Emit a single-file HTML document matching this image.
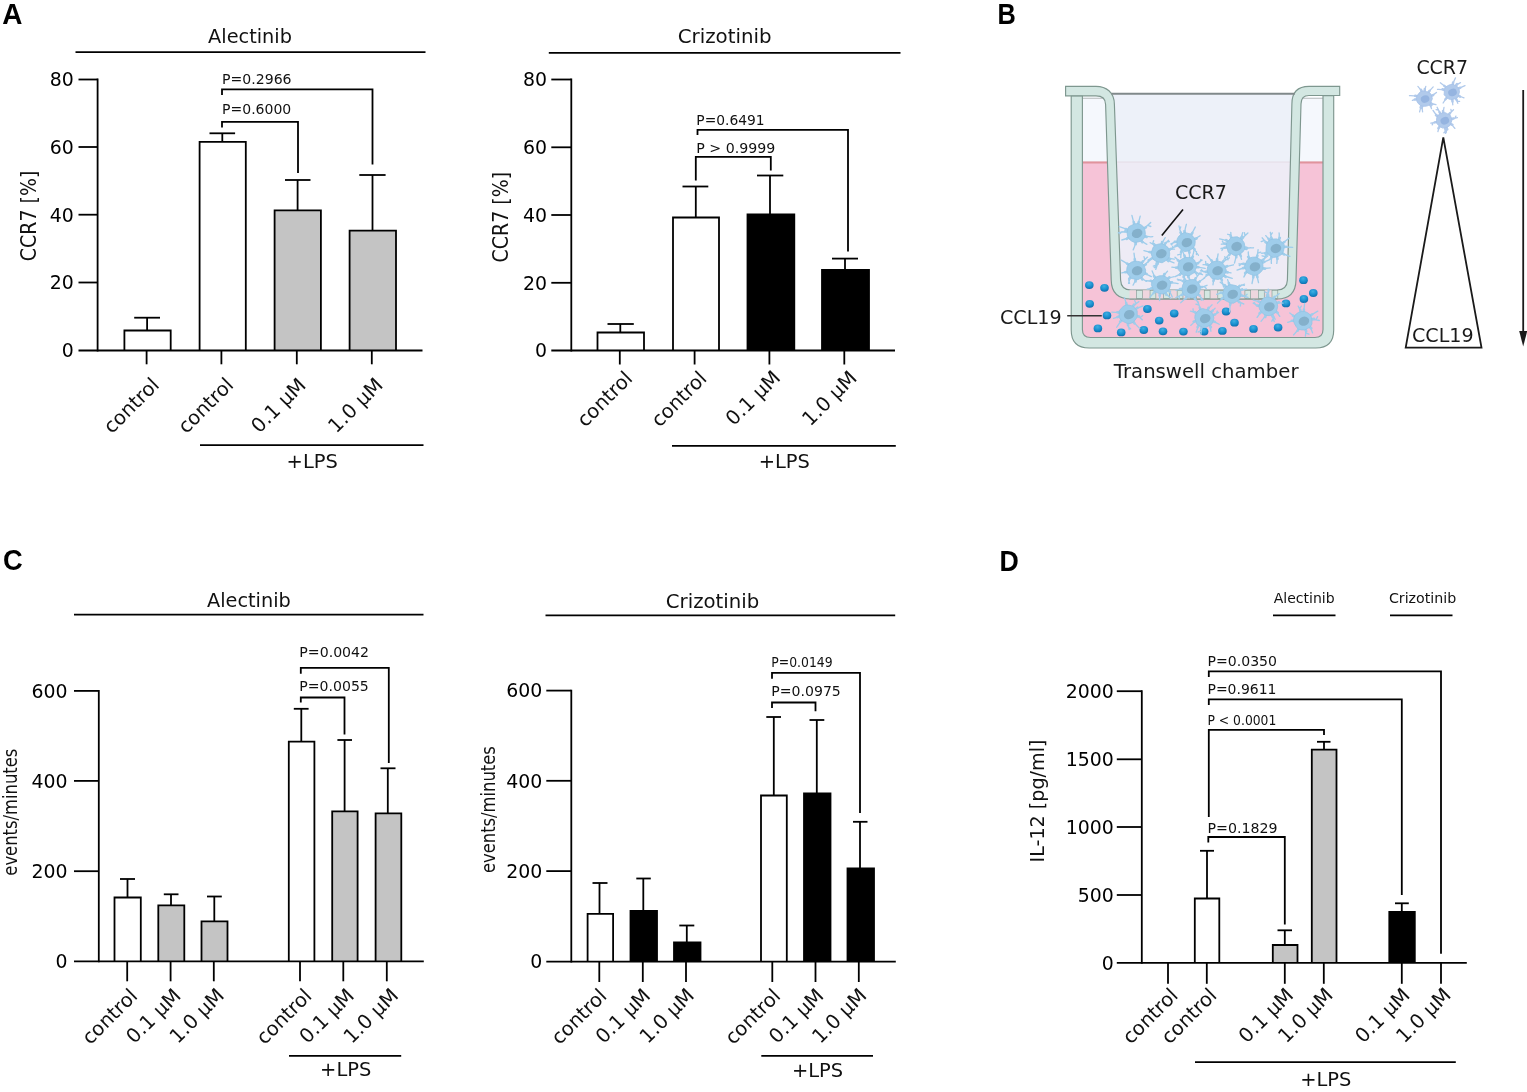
<!DOCTYPE html>
<html><head><meta charset="utf-8"><title>Figure</title>
<style>
html,body{margin:0;padding:0;background:#fff;}
body{width:1527px;height:1092px;overflow:hidden;}
svg{display:block;}
text{font-family:"DejaVu Sans","Liberation Sans",sans-serif;}
</style></head><body>
<svg width="1527" height="1092" viewBox="0 0 1527 1092">
<rect width="1527" height="1092" fill="#fff"/>
<text id="L_A" x="2.20" y="24.00" font-size="29" textLength="20.20" lengthAdjust="spacingAndGlyphs" font-weight="bold" style='font-family:"Liberation Sans", Arial, sans-serif' fill="#000">A</text>
<text id="L_B" x="997.50" y="24.20" font-size="29" textLength="18.30" lengthAdjust="spacingAndGlyphs" font-weight="bold" style='font-family:"Liberation Sans", Arial, sans-serif' fill="#000">B</text>
<text id="L_C" x="3.10" y="570.30" font-size="29" textLength="19.70" lengthAdjust="spacingAndGlyphs" font-weight="bold" style='font-family:"Liberation Sans", Arial, sans-serif' fill="#000">C</text>
<text id="L_D" x="999.50" y="570.70" font-size="29" textLength="19.30" lengthAdjust="spacingAndGlyphs" font-weight="bold" style='font-family:"Liberation Sans", Arial, sans-serif' fill="#000">D</text>
<g id="charts">
<line x1="147.10" y1="330.50" x2="147.10" y2="317.70" stroke="#000" stroke-width="1.8"/>
<line x1="134.20" y1="317.70" x2="160.00" y2="317.70" stroke="#000" stroke-width="1.8"/>
<path d="M124.40,350.50 V330.50 H170.70 V350.50" fill="#fff" stroke="#000" stroke-width="1.8" stroke-linejoin="miter"/>
<line x1="222.30" y1="141.80" x2="222.30" y2="133.30" stroke="#000" stroke-width="1.8"/>
<line x1="209.50" y1="133.30" x2="235.10" y2="133.30" stroke="#000" stroke-width="1.8"/>
<path d="M199.60,350.50 V141.80 H245.80 V350.50" fill="#fff" stroke="#000" stroke-width="1.8" stroke-linejoin="miter"/>
<line x1="297.60" y1="210.30" x2="297.60" y2="180.00" stroke="#000" stroke-width="1.8"/>
<line x1="285.00" y1="180.00" x2="310.50" y2="180.00" stroke="#000" stroke-width="1.8"/>
<path d="M274.60,350.50 V210.30 H320.90 V350.50" fill="#c4c4c4" stroke="#000" stroke-width="1.8" stroke-linejoin="miter"/>
<line x1="372.50" y1="230.70" x2="372.50" y2="175.00" stroke="#000" stroke-width="1.8"/>
<line x1="359.30" y1="175.00" x2="385.60" y2="175.00" stroke="#000" stroke-width="1.8"/>
<path d="M349.60,350.50 V230.70 H396.00 V350.50" fill="#c4c4c4" stroke="#000" stroke-width="1.8" stroke-linejoin="miter"/>
<line x1="97.60" y1="78.60" x2="97.60" y2="351.40" stroke="#000" stroke-width="1.8"/>
<line x1="78.50" y1="79.50" x2="97.60" y2="79.50" stroke="#000" stroke-width="1.8"/>
<line x1="78.50" y1="147.00" x2="97.60" y2="147.00" stroke="#000" stroke-width="1.8"/>
<line x1="78.50" y1="214.70" x2="97.60" y2="214.70" stroke="#000" stroke-width="1.8"/>
<line x1="78.50" y1="282.50" x2="97.60" y2="282.50" stroke="#000" stroke-width="1.8"/>
<line x1="78.50" y1="350.50" x2="422.50" y2="350.50" stroke="#000" stroke-width="1.8"/>
<line x1="146.60" y1="350.50" x2="146.60" y2="364.30" stroke="#000" stroke-width="1.8"/>
<line x1="221.40" y1="350.50" x2="221.40" y2="364.30" stroke="#000" stroke-width="1.8"/>
<line x1="296.80" y1="350.50" x2="296.80" y2="364.30" stroke="#000" stroke-width="1.8"/>
<line x1="371.80" y1="350.50" x2="371.80" y2="364.30" stroke="#000" stroke-width="1.8"/>
<line x1="620.30" y1="332.50" x2="620.30" y2="324.00" stroke="#000" stroke-width="1.8"/>
<line x1="607.50" y1="324.00" x2="633.80" y2="324.00" stroke="#000" stroke-width="1.8"/>
<path d="M597.50,350.50 V332.50 H644.00 V350.50" fill="#fff" stroke="#000" stroke-width="1.8" stroke-linejoin="miter"/>
<line x1="695.80" y1="217.50" x2="695.80" y2="186.50" stroke="#000" stroke-width="1.8"/>
<line x1="682.50" y1="186.50" x2="708.30" y2="186.50" stroke="#000" stroke-width="1.8"/>
<path d="M673.00,350.50 V217.50 H719.00 V350.50" fill="#fff" stroke="#000" stroke-width="1.8" stroke-linejoin="miter"/>
<line x1="770.00" y1="214.50" x2="770.00" y2="175.50" stroke="#000" stroke-width="1.8"/>
<line x1="757.00" y1="175.50" x2="783.30" y2="175.50" stroke="#000" stroke-width="1.8"/>
<path d="M747.50,350.50 V214.50 H794.30 V350.50" fill="#000" stroke="#000" stroke-width="1.8" stroke-linejoin="miter"/>
<line x1="845.00" y1="270.00" x2="845.00" y2="258.60" stroke="#000" stroke-width="1.8"/>
<line x1="832.00" y1="258.60" x2="858.00" y2="258.60" stroke="#000" stroke-width="1.8"/>
<path d="M822.00,350.50 V270.00 H869.00 V350.50" fill="#000" stroke="#000" stroke-width="1.8" stroke-linejoin="miter"/>
<line x1="571.30" y1="78.60" x2="571.30" y2="351.40" stroke="#000" stroke-width="1.8"/>
<line x1="551.30" y1="79.50" x2="571.30" y2="79.50" stroke="#000" stroke-width="1.8"/>
<line x1="551.30" y1="147.30" x2="571.30" y2="147.30" stroke="#000" stroke-width="1.8"/>
<line x1="551.30" y1="215.00" x2="571.30" y2="215.00" stroke="#000" stroke-width="1.8"/>
<line x1="551.30" y1="282.80" x2="571.30" y2="282.80" stroke="#000" stroke-width="1.8"/>
<line x1="551.30" y1="350.50" x2="895.00" y2="350.50" stroke="#000" stroke-width="1.8"/>
<line x1="619.80" y1="350.50" x2="619.80" y2="364.50" stroke="#000" stroke-width="1.8"/>
<line x1="694.60" y1="350.50" x2="694.60" y2="364.50" stroke="#000" stroke-width="1.8"/>
<line x1="769.40" y1="350.50" x2="769.40" y2="364.50" stroke="#000" stroke-width="1.8"/>
<line x1="844.30" y1="350.50" x2="844.30" y2="364.50" stroke="#000" stroke-width="1.8"/>
<line x1="127.50" y1="897.50" x2="127.50" y2="879.00" stroke="#000" stroke-width="1.8"/>
<line x1="120.00" y1="879.00" x2="135.00" y2="879.00" stroke="#000" stroke-width="1.8"/>
<path d="M114.50,961.40 V897.50 H140.80 V961.40" fill="#fff" stroke="#000" stroke-width="1.8" stroke-linejoin="miter"/>
<line x1="171.00" y1="905.30" x2="171.00" y2="894.30" stroke="#000" stroke-width="1.8"/>
<line x1="163.80" y1="894.30" x2="178.50" y2="894.30" stroke="#000" stroke-width="1.8"/>
<path d="M158.30,961.40 V905.30 H184.30 V961.40" fill="#c4c4c4" stroke="#000" stroke-width="1.8" stroke-linejoin="miter"/>
<line x1="214.30" y1="921.30" x2="214.30" y2="896.50" stroke="#000" stroke-width="1.8"/>
<line x1="207.00" y1="896.50" x2="221.80" y2="896.50" stroke="#000" stroke-width="1.8"/>
<path d="M201.50,961.40 V921.30 H227.50 V961.40" fill="#c4c4c4" stroke="#000" stroke-width="1.8" stroke-linejoin="miter"/>
<line x1="301.30" y1="741.60" x2="301.30" y2="708.80" stroke="#000" stroke-width="1.8"/>
<line x1="293.80" y1="708.80" x2="308.60" y2="708.80" stroke="#000" stroke-width="1.8"/>
<path d="M288.80,961.40 V741.60 H314.40 V961.40" fill="#fff" stroke="#000" stroke-width="1.8" stroke-linejoin="miter"/>
<line x1="344.60" y1="811.40" x2="344.60" y2="740.00" stroke="#000" stroke-width="1.8"/>
<line x1="337.40" y1="740.00" x2="352.00" y2="740.00" stroke="#000" stroke-width="1.8"/>
<path d="M332.20,961.40 V811.40 H357.60 V961.40" fill="#c4c4c4" stroke="#000" stroke-width="1.8" stroke-linejoin="miter"/>
<line x1="387.80" y1="813.30" x2="387.80" y2="768.30" stroke="#000" stroke-width="1.8"/>
<line x1="380.50" y1="768.30" x2="395.50" y2="768.30" stroke="#000" stroke-width="1.8"/>
<path d="M375.60,961.40 V813.30 H401.30 V961.40" fill="#c4c4c4" stroke="#000" stroke-width="1.8" stroke-linejoin="miter"/>
<line x1="98.80" y1="690.00" x2="98.80" y2="962.30" stroke="#000" stroke-width="1.8"/>
<line x1="74.00" y1="690.90" x2="98.80" y2="690.90" stroke="#000" stroke-width="1.8"/>
<line x1="74.00" y1="780.90" x2="98.80" y2="780.90" stroke="#000" stroke-width="1.8"/>
<line x1="74.00" y1="871.20" x2="98.80" y2="871.20" stroke="#000" stroke-width="1.8"/>
<line x1="74.00" y1="961.40" x2="423.80" y2="961.40" stroke="#000" stroke-width="1.8"/>
<line x1="127.20" y1="961.40" x2="127.20" y2="981.30" stroke="#000" stroke-width="1.8"/>
<line x1="170.60" y1="961.40" x2="170.60" y2="981.30" stroke="#000" stroke-width="1.8"/>
<line x1="213.80" y1="961.40" x2="213.80" y2="981.30" stroke="#000" stroke-width="1.8"/>
<line x1="300.00" y1="961.40" x2="300.00" y2="981.30" stroke="#000" stroke-width="1.8"/>
<line x1="343.30" y1="961.40" x2="343.30" y2="981.30" stroke="#000" stroke-width="1.8"/>
<line x1="386.80" y1="961.40" x2="386.80" y2="981.30" stroke="#000" stroke-width="1.8"/>
<line x1="599.50" y1="913.80" x2="599.50" y2="883.00" stroke="#000" stroke-width="1.8"/>
<line x1="592.50" y1="883.00" x2="607.50" y2="883.00" stroke="#000" stroke-width="1.8"/>
<path d="M587.60,961.60 V913.80 H613.10 V961.60" fill="#fff" stroke="#000" stroke-width="1.8" stroke-linejoin="miter"/>
<line x1="643.30" y1="910.80" x2="643.30" y2="878.50" stroke="#000" stroke-width="1.8"/>
<line x1="636.30" y1="878.50" x2="650.80" y2="878.50" stroke="#000" stroke-width="1.8"/>
<path d="M630.50,961.60 V910.80 H657.00 V961.60" fill="#000" stroke="#000" stroke-width="1.8" stroke-linejoin="miter"/>
<line x1="686.80" y1="942.50" x2="686.80" y2="925.50" stroke="#000" stroke-width="1.8"/>
<line x1="679.30" y1="925.50" x2="694.30" y2="925.50" stroke="#000" stroke-width="1.8"/>
<path d="M674.00,961.60 V942.50 H700.50 V961.60" fill="#000" stroke="#000" stroke-width="1.8" stroke-linejoin="miter"/>
<line x1="773.80" y1="795.50" x2="773.80" y2="717.00" stroke="#000" stroke-width="1.8"/>
<line x1="766.30" y1="717.00" x2="781.00" y2="717.00" stroke="#000" stroke-width="1.8"/>
<path d="M761.00,961.60 V795.50 H786.80 V961.60" fill="#fff" stroke="#000" stroke-width="1.8" stroke-linejoin="miter"/>
<line x1="816.80" y1="793.30" x2="816.80" y2="720.00" stroke="#000" stroke-width="1.8"/>
<line x1="809.50" y1="720.00" x2="824.30" y2="720.00" stroke="#000" stroke-width="1.8"/>
<path d="M804.00,961.60 V793.30 H830.50 V961.60" fill="#000" stroke="#000" stroke-width="1.8" stroke-linejoin="miter"/>
<line x1="860.00" y1="868.30" x2="860.00" y2="821.80" stroke="#000" stroke-width="1.8"/>
<line x1="853.00" y1="821.80" x2="867.50" y2="821.80" stroke="#000" stroke-width="1.8"/>
<path d="M847.50,961.60 V868.30 H874.00 V961.60" fill="#000" stroke="#000" stroke-width="1.8" stroke-linejoin="miter"/>
<line x1="571.30" y1="689.70" x2="571.30" y2="962.50" stroke="#000" stroke-width="1.8"/>
<line x1="546.30" y1="690.60" x2="571.30" y2="690.60" stroke="#000" stroke-width="1.8"/>
<line x1="546.30" y1="780.80" x2="571.30" y2="780.80" stroke="#000" stroke-width="1.8"/>
<line x1="546.30" y1="871.10" x2="571.30" y2="871.10" stroke="#000" stroke-width="1.8"/>
<line x1="546.30" y1="961.60" x2="895.80" y2="961.60" stroke="#000" stroke-width="1.8"/>
<line x1="599.30" y1="961.60" x2="599.30" y2="982.00" stroke="#000" stroke-width="1.8"/>
<line x1="642.80" y1="961.60" x2="642.80" y2="982.00" stroke="#000" stroke-width="1.8"/>
<line x1="686.00" y1="961.60" x2="686.00" y2="982.00" stroke="#000" stroke-width="1.8"/>
<line x1="772.30" y1="961.60" x2="772.30" y2="982.00" stroke="#000" stroke-width="1.8"/>
<line x1="815.50" y1="961.60" x2="815.50" y2="982.00" stroke="#000" stroke-width="1.8"/>
<line x1="858.80" y1="961.60" x2="858.80" y2="982.00" stroke="#000" stroke-width="1.8"/>
<line x1="1207.00" y1="898.50" x2="1207.00" y2="850.80" stroke="#000" stroke-width="1.8"/>
<line x1="1200.00" y1="850.80" x2="1214.00" y2="850.80" stroke="#000" stroke-width="1.8"/>
<path d="M1194.80,962.80 V898.50 H1219.30 V962.80" fill="#fff" stroke="#000" stroke-width="1.8" stroke-linejoin="miter"/>
<line x1="1284.80" y1="945.00" x2="1284.80" y2="930.30" stroke="#000" stroke-width="1.8"/>
<line x1="1277.50" y1="930.30" x2="1292.00" y2="930.30" stroke="#000" stroke-width="1.8"/>
<path d="M1272.80,962.80 V945.00 H1297.50 V962.80" fill="#c4c4c4" stroke="#000" stroke-width="1.8" stroke-linejoin="miter"/>
<line x1="1324.00" y1="749.60" x2="1324.00" y2="741.80" stroke="#000" stroke-width="1.8"/>
<line x1="1317.00" y1="741.80" x2="1330.50" y2="741.80" stroke="#000" stroke-width="1.8"/>
<path d="M1311.80,962.80 V749.60 H1336.50 V962.80" fill="#c4c4c4" stroke="#000" stroke-width="1.8" stroke-linejoin="miter"/>
<line x1="1401.80" y1="912.00" x2="1401.80" y2="903.30" stroke="#000" stroke-width="1.8"/>
<line x1="1395.00" y1="903.30" x2="1408.80" y2="903.30" stroke="#000" stroke-width="1.8"/>
<path d="M1389.30,962.80 V912.00 H1414.80 V962.80" fill="#000" stroke="#000" stroke-width="1.8" stroke-linejoin="miter"/>
<line x1="1141.80" y1="690.30" x2="1141.80" y2="963.70" stroke="#000" stroke-width="1.8"/>
<line x1="1116.80" y1="691.20" x2="1141.80" y2="691.20" stroke="#000" stroke-width="1.8"/>
<line x1="1116.80" y1="759.30" x2="1141.80" y2="759.30" stroke="#000" stroke-width="1.8"/>
<line x1="1116.80" y1="827.00" x2="1141.80" y2="827.00" stroke="#000" stroke-width="1.8"/>
<line x1="1116.80" y1="895.00" x2="1141.80" y2="895.00" stroke="#000" stroke-width="1.8"/>
<line x1="1116.80" y1="962.80" x2="1466.80" y2="962.80" stroke="#000" stroke-width="1.8"/>
<line x1="1168.00" y1="962.80" x2="1168.00" y2="983.80" stroke="#000" stroke-width="1.8"/>
<line x1="1206.80" y1="962.80" x2="1206.80" y2="983.80" stroke="#000" stroke-width="1.8"/>
<line x1="1284.80" y1="962.80" x2="1284.80" y2="983.80" stroke="#000" stroke-width="1.8"/>
<line x1="1323.80" y1="962.80" x2="1323.80" y2="983.80" stroke="#000" stroke-width="1.8"/>
<line x1="1401.80" y1="962.80" x2="1401.80" y2="983.80" stroke="#000" stroke-width="1.8"/>
<line x1="1441.00" y1="962.80" x2="1441.00" y2="983.80" stroke="#000" stroke-width="1.8"/>
<polyline points="222.00,127.50 222.00,121.80 298.00,121.80 298.00,173.00" fill="none" stroke="#000" stroke-width="1.8" stroke-linejoin="miter"/>
<polyline points="222.00,95.00 222.00,89.30 372.50,89.30 372.50,164.50" fill="none" stroke="#000" stroke-width="1.8" stroke-linejoin="miter"/>
<polyline points="695.80,180.50 695.80,156.80 770.80,156.80 770.80,170.50" fill="none" stroke="#000" stroke-width="1.8" stroke-linejoin="miter"/>
<polyline points="697.50,135.00 697.50,129.80 848.00,129.80 848.00,251.60" fill="none" stroke="#000" stroke-width="1.8" stroke-linejoin="miter"/>
<polyline points="300.80,702.50 300.80,697.50 344.50,697.50 344.50,734.50" fill="none" stroke="#000" stroke-width="1.8" stroke-linejoin="miter"/>
<polyline points="300.80,673.80 300.80,667.80 388.80,667.80 388.80,763.00" fill="none" stroke="#000" stroke-width="1.8" stroke-linejoin="miter"/>
<polyline points="772.00,708.00 772.00,702.50 815.50,702.50 815.50,711.30" fill="none" stroke="#000" stroke-width="1.8" stroke-linejoin="miter"/>
<polyline points="772.00,678.80 772.00,672.80 860.00,672.80 860.00,813.00" fill="none" stroke="#000" stroke-width="1.8" stroke-linejoin="miter"/>
<polyline points="1208.30,842.50 1208.30,837.00 1284.80,837.00 1284.80,924.50" fill="none" stroke="#000" stroke-width="1.8" stroke-linejoin="miter"/>
<polyline points="1208.80,817.00 1208.80,729.80 1324.00,729.80 1324.00,735.00" fill="none" stroke="#000" stroke-width="1.8" stroke-linejoin="miter"/>
<polyline points="1208.80,705.00 1208.80,699.30 1401.80,699.30 1401.80,895.00" fill="none" stroke="#000" stroke-width="1.8" stroke-linejoin="miter"/>
<polyline points="1208.80,677.00 1208.80,671.30 1441.00,671.30 1441.00,953.80" fill="none" stroke="#000" stroke-width="1.8" stroke-linejoin="miter"/>
<line x1="75.50" y1="52.10" x2="425.50" y2="52.10" stroke="#000" stroke-width="1.8"/>
<line x1="548.80" y1="52.80" x2="900.50" y2="52.80" stroke="#000" stroke-width="1.8"/>
<line x1="74.00" y1="614.60" x2="423.50" y2="614.60" stroke="#000" stroke-width="1.8"/>
<line x1="545.50" y1="615.30" x2="895.20" y2="615.30" stroke="#000" stroke-width="1.8"/>
<line x1="1273.00" y1="615.30" x2="1335.50" y2="615.30" stroke="#000" stroke-width="1.8"/>
<line x1="1390.00" y1="615.30" x2="1452.50" y2="615.30" stroke="#000" stroke-width="1.8"/>
<line x1="200.00" y1="445.10" x2="423.50" y2="445.10" stroke="#000" stroke-width="1.8"/>
<line x1="672.00" y1="445.80" x2="895.80" y2="445.80" stroke="#000" stroke-width="1.8"/>
<line x1="289.00" y1="1055.80" x2="401.20" y2="1055.80" stroke="#000" stroke-width="1.8"/>
<line x1="761.30" y1="1055.80" x2="873.00" y2="1055.80" stroke="#000" stroke-width="1.8"/>
<line x1="1195.00" y1="1062.20" x2="1455.80" y2="1062.20" stroke="#000" stroke-width="1.8"/>
</g>
<g id="texts">
<text id="t_alec_A" x="208.10" y="43.00" font-size="18.6" textLength="83.91" lengthAdjust="spacingAndGlyphs" fill="#111">Alectinib</text>
<text id="t_criz_A" x="677.70" y="43.40" font-size="18.6" textLength="93.90" lengthAdjust="spacingAndGlyphs" fill="#111">Crizotinib</text>
<text id="t_alec_C" x="207.00" y="607.00" font-size="18.6" textLength="83.81" lengthAdjust="spacingAndGlyphs" fill="#111">Alectinib</text>
<text id="t_criz_C" x="665.80" y="607.60" font-size="18.6" textLength="93.40" lengthAdjust="spacingAndGlyphs" fill="#111">Crizotinib</text>
<text id="t_alec_D" x="1273.70" y="603.30" font-size="14.6" textLength="60.90" lengthAdjust="spacingAndGlyphs" fill="#111">Alectinib</text>
<text id="t_criz_D" x="1388.90" y="603.30" font-size="14.6" textLength="67.40" lengthAdjust="spacingAndGlyphs" fill="#111">Crizotinib</text>
<text id="lps1" x="286.60" y="467.60" font-size="19.2" textLength="51.20" lengthAdjust="spacingAndGlyphs" fill="#111">+LPS</text>
<text id="lps2" x="758.70" y="468.10" font-size="19.2" textLength="51.20" lengthAdjust="spacingAndGlyphs" fill="#111">+LPS</text>
<text id="lps3" x="320.10" y="1076.20" font-size="19.2" textLength="51.20" lengthAdjust="spacingAndGlyphs" fill="#111">+LPS</text>
<text id="lps4" x="791.90" y="1077.30" font-size="19.2" textLength="51.20" lengthAdjust="spacingAndGlyphs" fill="#111">+LPS</text>
<text id="lps5" x="1300.20" y="1085.90" font-size="19.2" textLength="51.20" lengthAdjust="spacingAndGlyphs" fill="#111">+LPS</text>
<text id="y_80_79" x="49.66" y="86.39" font-size="18.9" textLength="24.05" lengthAdjust="spacingAndGlyphs" fill="#000">80</text>
<text id="y_60_147" x="49.66" y="153.89" font-size="18.9" textLength="24.05" lengthAdjust="spacingAndGlyphs" fill="#000">60</text>
<text id="y_40_214" x="49.66" y="221.59" font-size="18.9" textLength="24.05" lengthAdjust="spacingAndGlyphs" fill="#000">40</text>
<text id="y_20_282" x="49.66" y="289.39" font-size="18.9" textLength="24.05" lengthAdjust="spacingAndGlyphs" fill="#000">20</text>
<text id="y_0_350" x="61.68" y="357.39" font-size="18.9" textLength="12.02" lengthAdjust="spacingAndGlyphs" fill="#000">0</text>
<text id="y_80_79" x="522.96" y="86.39" font-size="18.9" textLength="24.05" lengthAdjust="spacingAndGlyphs" fill="#000">80</text>
<text id="y_60_147" x="522.96" y="154.19" font-size="18.9" textLength="24.05" lengthAdjust="spacingAndGlyphs" fill="#000">60</text>
<text id="y_40_215" x="522.96" y="221.89" font-size="18.9" textLength="24.05" lengthAdjust="spacingAndGlyphs" fill="#000">40</text>
<text id="y_20_282" x="522.96" y="289.69" font-size="18.9" textLength="24.05" lengthAdjust="spacingAndGlyphs" fill="#000">20</text>
<text id="y_0_350" x="534.98" y="357.39" font-size="18.9" textLength="12.02" lengthAdjust="spacingAndGlyphs" fill="#000">0</text>
<text id="y_600_690" x="31.42" y="697.79" font-size="18.9" textLength="36.07" lengthAdjust="spacingAndGlyphs" fill="#000">600</text>
<text id="y_400_780" x="31.42" y="787.79" font-size="18.9" textLength="36.07" lengthAdjust="spacingAndGlyphs" fill="#000">400</text>
<text id="y_200_871" x="31.42" y="878.09" font-size="18.9" textLength="36.07" lengthAdjust="spacingAndGlyphs" fill="#000">200</text>
<text id="y_0_961" x="55.48" y="968.29" font-size="18.9" textLength="12.02" lengthAdjust="spacingAndGlyphs" fill="#000">0</text>
<text id="y_600_690" x="506.22" y="697.49" font-size="18.9" textLength="36.07" lengthAdjust="spacingAndGlyphs" fill="#000">600</text>
<text id="y_400_780" x="506.22" y="787.69" font-size="18.9" textLength="36.07" lengthAdjust="spacingAndGlyphs" fill="#000">400</text>
<text id="y_200_871" x="506.22" y="877.99" font-size="18.9" textLength="36.07" lengthAdjust="spacingAndGlyphs" fill="#000">200</text>
<text id="y_0_961" x="530.28" y="968.49" font-size="18.9" textLength="12.02" lengthAdjust="spacingAndGlyphs" fill="#000">0</text>
<text id="y_2000_691" x="1065.70" y="698.09" font-size="18.9" textLength="48.10" lengthAdjust="spacingAndGlyphs" fill="#000">2000</text>
<text id="y_1500_759" x="1065.70" y="766.19" font-size="18.9" textLength="48.10" lengthAdjust="spacingAndGlyphs" fill="#000">1500</text>
<text id="y_1000_827" x="1065.70" y="833.89" font-size="18.9" textLength="48.10" lengthAdjust="spacingAndGlyphs" fill="#000">1000</text>
<text id="y_500_895" x="1077.72" y="901.89" font-size="18.9" textLength="36.07" lengthAdjust="spacingAndGlyphs" fill="#000">500</text>
<text id="y_0_962" x="1101.78" y="969.69" font-size="18.9" textLength="12.02" lengthAdjust="spacingAndGlyphs" fill="#000">0</text>
<text id="yl_A1" transform="translate(36.00,261.20) rotate(-90)" x="-0.00" y="0" font-size="20.6" textLength="90.60" lengthAdjust="spacingAndGlyphs" fill="#111">CCR7 [%]</text>
<text id="yl_A2" transform="translate(507.50,262.50) rotate(-90)" x="-0.00" y="0" font-size="20.6" textLength="90.60" lengthAdjust="spacingAndGlyphs" fill="#111">CCR7 [%]</text>
<text id="yl_C1" transform="translate(17.30,875.70) rotate(-90)" x="-0.00" y="0" font-size="19.5" textLength="127.00" lengthAdjust="spacingAndGlyphs" fill="#111">events/minutes</text>
<text id="yl_C2" transform="translate(494.50,873.00) rotate(-90)" x="-0.00" y="0" font-size="19.5" textLength="126.80" lengthAdjust="spacingAndGlyphs" fill="#111">events/minutes</text>
<text id="yl_D" transform="translate(1043.70,862.40) rotate(-90)" x="-0.00" y="0" font-size="19.8" textLength="122.81" lengthAdjust="spacingAndGlyphs" fill="#111">IL-12 [pg/ml]</text>
<text id="p1" x="222.00" y="113.50" font-size="14.2" textLength="69.30" lengthAdjust="spacingAndGlyphs" fill="#111">P=0.6000</text>
<text id="p2" x="222.00" y="83.50" font-size="14.2" textLength="69.55" lengthAdjust="spacingAndGlyphs" fill="#111">P=0.2966</text>
<text id="p3" x="696.30" y="152.70" font-size="14.2" textLength="79.00" lengthAdjust="spacingAndGlyphs" fill="#111">P &gt; 0.9999</text>
<text id="p4" x="696.30" y="124.70" font-size="14.2" textLength="68.30" lengthAdjust="spacingAndGlyphs" fill="#111">P=0.6491</text>
<text id="p5" x="299.30" y="690.50" font-size="14.2" textLength="69.50" lengthAdjust="spacingAndGlyphs" fill="#111">P=0.0055</text>
<text id="p6" x="299.30" y="656.70" font-size="14.2" textLength="69.80" lengthAdjust="spacingAndGlyphs" fill="#111">P=0.0042</text>
<text id="p7" x="771.30" y="696.00" font-size="14.2" textLength="69.50" lengthAdjust="spacingAndGlyphs" fill="#111">P=0.0975</text>
<text id="p8" x="771.30" y="666.70" font-size="14.2" textLength="61.30" lengthAdjust="spacingAndGlyphs" fill="#111">P=0.0149</text>
<text id="p9" x="1207.50" y="833.00" font-size="14.2" textLength="70.00" lengthAdjust="spacingAndGlyphs" fill="#111">P=0.1829</text>
<text id="p10" x="1207.50" y="724.70" font-size="14.2" textLength="68.80" lengthAdjust="spacingAndGlyphs" fill="#111">P &lt; 0.0001</text>
<text id="p11" x="1207.50" y="693.50" font-size="14.2" textLength="69.00" lengthAdjust="spacingAndGlyphs" fill="#111">P=0.9611</text>
<text id="p12" x="1207.50" y="665.50" font-size="14.2" textLength="69.50" lengthAdjust="spacingAndGlyphs" fill="#111">P=0.0350</text>
<text id="xl0" transform="translate(160.34,386.10) rotate(-45)" x="0" y="0" font-size="19.8" text-anchor="end" fill="#111">control</text>
<text id="xl1" transform="translate(234.64,386.10) rotate(-45)" x="0" y="0" font-size="19.8" text-anchor="end" fill="#111">control</text>
<text id="xl2" transform="translate(306.95,386.31) rotate(-45)" x="0" y="0" font-size="19.8" text-anchor="end" fill="#111">0.1 µM</text>
<text id="xl3" transform="translate(383.99,386.25) rotate(-45)" x="0" y="0" font-size="19.8" text-anchor="end" fill="#111">1.0 µM</text>
<text id="xl4" transform="translate(633.64,379.60) rotate(-45)" x="0" y="0" font-size="19.8" text-anchor="end" fill="#111">control</text>
<text id="xl5" transform="translate(707.94,379.60) rotate(-45)" x="0" y="0" font-size="19.8" text-anchor="end" fill="#111">control</text>
<text id="xl6" transform="translate(781.45,378.81) rotate(-45)" x="0" y="0" font-size="19.8" text-anchor="end" fill="#111">0.1 µM</text>
<text id="xl7" transform="translate(857.99,379.25) rotate(-45)" x="0" y="0" font-size="19.8" text-anchor="end" fill="#111">1.0 µM</text>
<text id="xl8" transform="translate(138.64,997.10) rotate(-45)" x="0" y="0" font-size="19.8" text-anchor="end" fill="#111">control</text>
<text id="xl9" transform="translate(181.95,996.81) rotate(-45)" x="0" y="0" font-size="19.8" text-anchor="end" fill="#111">0.1 µM</text>
<text id="xl10" transform="translate(225.29,996.75) rotate(-45)" x="0" y="0" font-size="19.8" text-anchor="end" fill="#111">1.0 µM</text>
<text id="xl11" transform="translate(312.94,997.10) rotate(-45)" x="0" y="0" font-size="19.8" text-anchor="end" fill="#111">control</text>
<text id="xl12" transform="translate(355.25,996.81) rotate(-45)" x="0" y="0" font-size="19.8" text-anchor="end" fill="#111">0.1 µM</text>
<text id="xl13" transform="translate(399.49,996.75) rotate(-45)" x="0" y="0" font-size="19.8" text-anchor="end" fill="#111">1.0 µM</text>
<text id="xl14" transform="translate(607.94,997.10) rotate(-45)" x="0" y="0" font-size="19.8" text-anchor="end" fill="#111">control</text>
<text id="xl15" transform="translate(651.45,996.81) rotate(-45)" x="0" y="0" font-size="19.8" text-anchor="end" fill="#111">0.1 µM</text>
<text id="xl16" transform="translate(695.29,996.75) rotate(-45)" x="0" y="0" font-size="19.8" text-anchor="end" fill="#111">1.0 µM</text>
<text id="xl17" transform="translate(781.64,997.10) rotate(-45)" x="0" y="0" font-size="19.8" text-anchor="end" fill="#111">control</text>
<text id="xl18" transform="translate(824.75,996.81) rotate(-45)" x="0" y="0" font-size="19.8" text-anchor="end" fill="#111">0.1 µM</text>
<text id="xl19" transform="translate(867.79,996.75) rotate(-45)" x="0" y="0" font-size="19.8" text-anchor="end" fill="#111">1.0 µM</text>
<text id="xl20" transform="translate(1179.14,996.60) rotate(-45)" x="0" y="0" font-size="19.8" text-anchor="end" fill="#111">control</text>
<text id="xl21" transform="translate(1217.94,996.60) rotate(-45)" x="0" y="0" font-size="19.8" text-anchor="end" fill="#111">control</text>
<text id="xl22" transform="translate(1294.45,996.31) rotate(-45)" x="0" y="0" font-size="19.8" text-anchor="end" fill="#111">0.1 µM</text>
<text id="xl23" transform="translate(1333.99,996.25) rotate(-45)" x="0" y="0" font-size="19.8" text-anchor="end" fill="#111">1.0 µM</text>
<text id="xl24" transform="translate(1410.95,996.31) rotate(-45)" x="0" y="0" font-size="19.8" text-anchor="end" fill="#111">0.1 µM</text>
<text id="xl25" transform="translate(1451.99,996.25) rotate(-45)" x="0" y="0" font-size="19.8" text-anchor="end" fill="#111">1.0 µM</text>
</g>
<g id="panelB">
<defs><linearGradient id="insg" gradientUnits="userSpaceOnUse" x1="0" y1="93" x2="0" y2="292"><stop offset="0" stop-color="#edf1f9"/><stop offset="0.345" stop-color="#edf1f9"/><stop offset="0.345" stop-color="#eeebf5"/><stop offset="1" stop-color="#eeebf5"/></linearGradient><radialGradient id="dotg" cx="0.45" cy="0.3" r="0.75"><stop offset="0" stop-color="#3fb0e2"/><stop offset="0.55" stop-color="#1a8fcf"/><stop offset="1" stop-color="#0c6aa8"/></radialGradient></defs>
<rect x="1082.4" y="97" width="240.6" height="70" fill="#f5f8fd"/>
<path d="M1082.4,162.3 H1323 V329.5 Q1323,337.5 1315,337.5 H1090.4 Q1082.4,337.5 1082.4,329.5 Z" fill="#f6c3d7"/>
<rect x="1082.4" y="161.4" width="240.6" height="2.1" fill="#e0939d"/>
<line x1="1082.4" y1="98.4" x2="1323" y2="98.4" stroke="#c6c9cb" stroke-width="1.2"/>
<path d="M1113,93 L1120.6,282 Q1121,291 1131,291 H1277 Q1287,291 1287.4,282 L1293,93 Z" fill="url(#insg)"/>
<line x1="1115" y1="162" x2="1291" y2="162" stroke="#e4dce6" stroke-width="1"/>
<path d="M1071.2,95.6 V330 Q1071.2,348 1089.2,348 H1315.7 Q1333.7,348 1333.7,330 V95.6 H1323 V329.5 Q1323,337.5 1315,337.5 H1090.4 Q1082.4,337.5 1082.4,329.5 V95.6 Z" fill="#d3e7e2" stroke="#7e978f" stroke-width="1.15"/>
<path d="M1065.6,86.3 H1096 C1106,86.3 1114.4,92 1114.4,104.5 L1120.6,280 Q1121,290 1131,290 H1277 Q1287,290 1287.4,280 L1291.9,104 C1291.9,92 1298,86.3 1309,86.3 H1339.7 V95.5 H1309 C1304,95.5 1301,98 1301,104 L1296,280 Q1295.6,299 1277,299 H1131 Q1111.5,299 1111.2,280 L1105.6,104.5 C1105.6,98 1102,95.8 1096,95.8 H1065.6 Z" fill="#d3e7e2" stroke="#7e978f" stroke-width="1.15"/>
<rect x="1129.5" y="290.3" width="148" height="8.4" fill="#efd6de"/>
<rect x="1136.50" y="290.3" width="5.8" height="8.4" fill="#d3e7e2" stroke="#7e978f" stroke-width="0.6"/>
<rect x="1150.05" y="290.3" width="5.8" height="8.4" fill="#d3e7e2" stroke="#7e978f" stroke-width="0.6"/>
<rect x="1163.60" y="290.3" width="5.8" height="8.4" fill="#d3e7e2" stroke="#7e978f" stroke-width="0.6"/>
<rect x="1177.15" y="290.3" width="5.8" height="8.4" fill="#d3e7e2" stroke="#7e978f" stroke-width="0.6"/>
<rect x="1190.70" y="290.3" width="5.8" height="8.4" fill="#d3e7e2" stroke="#7e978f" stroke-width="0.6"/>
<rect x="1204.25" y="290.3" width="5.8" height="8.4" fill="#d3e7e2" stroke="#7e978f" stroke-width="0.6"/>
<rect x="1217.80" y="290.3" width="5.8" height="8.4" fill="#d3e7e2" stroke="#7e978f" stroke-width="0.6"/>
<rect x="1231.35" y="290.3" width="5.8" height="8.4" fill="#d3e7e2" stroke="#7e978f" stroke-width="0.6"/>
<rect x="1244.90" y="290.3" width="5.8" height="8.4" fill="#d3e7e2" stroke="#7e978f" stroke-width="0.6"/>
<rect x="1258.45" y="290.3" width="5.8" height="8.4" fill="#d3e7e2" stroke="#7e978f" stroke-width="0.6"/>
<rect x="1272.00" y="290.3" width="5.8" height="8.4" fill="#d3e7e2" stroke="#7e978f" stroke-width="0.6"/>
<line x1="1129.5" y1="299" x2="1277.5" y2="299" stroke="#7e978f" stroke-width="0.9"/>
<line x1="1111.5" y1="93.8" x2="1294.8" y2="93.8" stroke="#80898a" stroke-width="1.9"/>
<ellipse cx="1089.3" cy="285.1" rx="4.3" ry="3.9" fill="url(#dotg)"/>
<ellipse cx="1104.5" cy="287.8" rx="4.3" ry="3.9" fill="url(#dotg)"/>
<ellipse cx="1089.7" cy="303.8" rx="4.3" ry="3.9" fill="url(#dotg)"/>
<ellipse cx="1107.0" cy="315.4" rx="4.3" ry="3.9" fill="url(#dotg)"/>
<ellipse cx="1097.9" cy="328.4" rx="4.3" ry="3.9" fill="url(#dotg)"/>
<ellipse cx="1121.2" cy="332.4" rx="4.3" ry="3.9" fill="url(#dotg)"/>
<ellipse cx="1147.4" cy="309.0" rx="4.3" ry="3.9" fill="url(#dotg)"/>
<ellipse cx="1174.2" cy="313.5" rx="4.3" ry="3.9" fill="url(#dotg)"/>
<ellipse cx="1159.2" cy="320.6" rx="4.3" ry="3.9" fill="url(#dotg)"/>
<ellipse cx="1143.8" cy="330.0" rx="4.3" ry="3.9" fill="url(#dotg)"/>
<ellipse cx="1163.0" cy="331.3" rx="4.3" ry="3.9" fill="url(#dotg)"/>
<ellipse cx="1183.4" cy="331.6" rx="4.3" ry="3.9" fill="url(#dotg)"/>
<ellipse cx="1204.1" cy="331.6" rx="4.3" ry="3.9" fill="url(#dotg)"/>
<ellipse cx="1222.4" cy="330.9" rx="4.3" ry="3.9" fill="url(#dotg)"/>
<ellipse cx="1226.1" cy="311.5" rx="4.3" ry="3.9" fill="url(#dotg)"/>
<ellipse cx="1234.5" cy="322.7" rx="4.3" ry="3.9" fill="url(#dotg)"/>
<ellipse cx="1253.5" cy="328.9" rx="4.3" ry="3.9" fill="url(#dotg)"/>
<ellipse cx="1278.1" cy="327.5" rx="4.3" ry="3.9" fill="url(#dotg)"/>
<ellipse cx="1286.0" cy="303.4" rx="4.3" ry="3.9" fill="url(#dotg)"/>
<ellipse cx="1303.5" cy="280.2" rx="4.3" ry="3.9" fill="url(#dotg)"/>
<ellipse cx="1303.9" cy="299.0" rx="4.3" ry="3.9" fill="url(#dotg)"/>
<ellipse cx="1313.3" cy="293.0" rx="4.3" ry="3.9" fill="url(#dotg)"/>
<path d="M1129.2,230.3 Q1123.0,228.0 1119.3,226.7 M1134.5,225.6 Q1132.9,219.2 1131.9,215.4 M1137.8,225.6 Q1139.3,219.5 1140.2,216.1 M1142.7,229.1 Q1148.1,225.4 1150.7,222.5 M1148.1,225.4 L1150.8,226.5 M1143.2,235.7 Q1149.1,237.2 1152.8,236.7 M1140.4,239.2 Q1143.9,243.2 1146.9,244.3 M1135.9,240.4 Q1135.0,246.6 1133.2,249.9 M1129.8,236.9 Q1124.9,239.5 1121.8,240.0 M1128.8,231.8 Q1122.2,231.6 1118.3,232.9 M1122.2,231.6 L1120.0,233.6" fill="none" stroke="#9fcdeb" stroke-width="1.35" stroke-linecap="round"/>
<path d="M1129.2,230.3 L1125.7,229.0 M1134.5,225.6 L1133.7,222.0 M1137.8,225.6 L1138.7,222.0 M1142.7,229.1 L1145.9,227.3 M1143.2,235.7 L1146.6,237.0 M1140.4,239.2 L1142.4,242.2 M1135.9,240.4 L1135.7,244.1 M1129.8,236.9 L1126.7,238.9 M1128.8,231.8 L1125.1,231.3" fill="none" stroke="#9fcdeb" stroke-width="2.6" stroke-linecap="round"/>
<path d="M1145.3,232.9 L1145.1,236.1 L1143.5,239.1 L1141.0,241.2 L1137.8,242.0 L1134.5,242.4 L1131.5,241.0 L1129.0,238.9 L1127.5,236.1 L1127.1,232.9 L1127.6,229.8 L1128.8,226.7 L1131.8,225.2 L1134.6,223.9 L1137.8,223.6 L1140.9,224.7 L1143.5,226.8 L1144.8,229.8Z" fill="#9fcdeb" stroke="#93c4e5" stroke-width="0.8" stroke-linejoin="round"/>
<ellipse cx="1137.1" cy="233.4" rx="5.4" ry="4.5" transform="rotate(-20 1137.1 233.4)" fill="#84b0cb"/>
<path d="M1182.6,248.8 Q1180.6,254.2 1180.8,257.6 M1180.6,254.2 L1177.7,254.8 M1179.0,244.7 Q1173.2,247.4 1170.4,249.8 M1178.5,241.9 Q1173.4,242.4 1170.9,243.8 M1173.4,242.4 L1171.5,244.7 M1182.3,235.6 Q1179.6,229.8 1179.0,226.0 M1179.6,229.8 L1180.7,227.0 M1184.9,234.7 Q1184.8,228.1 1186.4,224.3 M1190.3,235.9 Q1193.7,230.5 1195.3,227.0 M1193.1,239.6 Q1197.9,237.5 1200.1,235.8 M1191.8,246.9 Q1196.5,251.7 1198.4,255.3 M1196.5,251.7 L1196.4,254.6 M1188.4,249.2 Q1189.9,255.6 1189.5,259.6" fill="none" stroke="#9fcdeb" stroke-width="1.35" stroke-linecap="round"/>
<path d="M1182.6,248.8 L1181.0,252.1 M1179.0,244.7 L1175.5,246.0 M1178.5,241.9 L1174.8,241.8 M1182.3,235.6 L1180.5,232.4 M1184.9,234.7 L1184.4,231.0 M1190.3,235.9 L1192.4,232.9 M1193.1,239.6 L1196.6,238.4 M1191.8,246.9 L1194.6,249.3 M1188.4,249.2 L1189.5,252.7" fill="none" stroke="#9fcdeb" stroke-width="2.6" stroke-linecap="round"/>
<path d="M1195.2,242.1 L1194.8,245.3 L1193.1,248.0 L1190.5,249.9 L1187.6,251.1 L1184.3,251.6 L1181.6,249.8 L1179.2,247.8 L1177.1,245.3 L1176.9,242.1 L1177.2,238.9 L1178.9,236.1 L1181.4,234.2 L1184.3,232.5 L1187.6,233.2 L1190.6,234.1 L1192.9,236.3 L1194.9,238.9Z" fill="#9fcdeb" stroke="#93c4e5" stroke-width="0.8" stroke-linejoin="round"/>
<ellipse cx="1186.9" cy="242.6" rx="5.4" ry="4.5" transform="rotate(-20 1186.9 242.6)" fill="#84b0cb"/>
<path d="M1236.1,253.5 Q1235.8,259.7 1234.5,263.1 M1231.3,252.1 Q1227.2,257.1 1224.0,259.3 M1227.2,257.1 L1228.0,259.9 M1228.3,247.2 Q1223.4,248.0 1221.0,248.5 M1223.4,248.0 L1221.9,250.5 M1228.4,244.4 Q1223.7,243.7 1221.3,244.2 M1223.7,243.7 L1222.4,241.1 M1229.3,242.1 Q1223.5,239.3 1219.7,238.9 M1232.3,239.3 Q1230.6,234.9 1230.8,232.4 M1230.6,234.9 L1227.7,234.3 M1239.9,239.8 Q1242.3,235.3 1242.7,232.6 M1240.6,240.3 Q1245.0,235.5 1247.9,233.0 M1245.0,235.5 L1244.4,232.6 M1243.1,247.3 Q1249.6,248.1 1253.5,247.8 M1243.0,247.9 Q1247.9,248.6 1250.7,247.6 M1239.1,252.7 Q1241.1,257.0 1241.5,259.3" fill="none" stroke="#9fcdeb" stroke-width="1.35" stroke-linecap="round"/>
<path d="M1236.1,253.5 L1236.3,257.2 M1231.3,252.1 L1229.2,255.1 M1228.3,247.2 L1224.6,247.7 M1228.4,244.4 L1224.8,243.5 M1229.3,242.1 L1226.1,240.2 M1232.3,239.3 L1230.6,236.0 M1239.9,239.8 L1242.0,236.7 M1240.6,240.3 L1243.0,237.5 M1243.1,247.3 L1246.7,247.9 M1243.0,247.9 L1246.5,248.9 M1239.1,252.7 L1240.8,256.0" fill="none" stroke="#9fcdeb" stroke-width="2.6" stroke-linecap="round"/>
<path d="M1244.8,246.0 L1244.7,249.3 L1242.8,252.0 L1240.3,253.9 L1237.3,255.1 L1234.1,255.4 L1231.3,253.7 L1228.2,252.3 L1227.4,249.0 L1226.2,246.0 L1226.7,242.7 L1228.9,240.3 L1230.9,237.7 L1234.1,237.0 L1237.3,236.8 L1240.1,238.3 L1242.5,240.3 L1244.2,242.9Z" fill="#9fcdeb" stroke="#93c4e5" stroke-width="0.8" stroke-linejoin="round"/>
<ellipse cx="1236.6" cy="246.5" rx="5.4" ry="4.5" transform="rotate(-20 1236.6 246.5)" fill="#84b0cb"/>
<path d="M1278.2,241.2 Q1279.7,236.2 1279.1,233.0 M1281.3,244.0 Q1286.5,240.4 1289.2,238.0 M1282.5,247.1 Q1288.8,246.8 1292.6,247.4 M1281.1,252.3 Q1286.4,255.5 1289.9,256.3 M1276.7,255.3 Q1277.4,260.5 1276.8,263.4 M1272.3,255.0 Q1270.9,260.2 1271.4,263.4 M1269.0,252.6 Q1265.0,256.5 1263.7,259.6 M1265.0,256.5 L1262.1,255.8 M1268.4,251.6 Q1264.0,253.4 1261.3,253.2 M1268.6,244.0 Q1264.0,240.6 1262.2,237.8 M1264.0,240.6 L1261.2,241.6 M1270.7,241.8 Q1267.6,237.7 1265.8,235.6 M1272.4,240.9 Q1270.7,235.5 1270.3,232.3 M1270.7,235.5 L1272.3,232.9" fill="none" stroke="#9fcdeb" stroke-width="1.35" stroke-linecap="round"/>
<path d="M1278.2,241.2 L1279.8,237.9 M1281.3,244.0 L1284.4,242.0 M1282.5,247.1 L1286.1,246.7 M1281.1,252.3 L1284.1,254.5 M1276.7,255.3 L1277.5,258.9 M1272.3,255.0 L1270.9,258.4 M1269.0,252.6 L1266.1,254.8 M1268.4,251.6 L1265.2,253.4 M1268.6,244.0 L1265.5,242.1 M1270.7,241.8 L1268.6,238.8 M1272.4,240.9 L1271.2,237.5" fill="none" stroke="#9fcdeb" stroke-width="2.6" stroke-linecap="round"/>
<path d="M1284.1,248.0 L1283.5,251.1 L1282.1,254.0 L1279.5,255.8 L1276.6,256.9 L1273.3,257.5 L1270.3,256.2 L1268.2,253.7 L1266.0,251.3 L1266.1,248.0 L1266.4,244.9 L1267.6,241.8 L1270.3,239.8 L1273.4,239.0 L1276.6,238.9 L1279.6,240.0 L1281.9,242.2 L1284.2,244.7Z" fill="#9fcdeb" stroke="#93c4e5" stroke-width="0.8" stroke-linejoin="round"/>
<ellipse cx="1275.9" cy="248.5" rx="5.4" ry="4.5" transform="rotate(-20 1275.9 248.5)" fill="#84b0cb"/>
<path d="M1167.3,250.3 Q1171.9,248.9 1174.5,249.1 M1171.9,248.9 L1172.8,246.1 M1166.8,257.1 Q1171.5,259.2 1174.5,259.1 M1165.8,258.4 Q1170.5,262.0 1174.0,262.8 M1158.5,260.5 Q1156.9,266.3 1155.7,269.4 M1156.9,266.3 L1154.2,267.5 M1157.9,260.3 Q1156.1,265.1 1155.0,267.6 M1156.1,265.1 L1153.3,266.1 M1154.0,257.1 Q1149.9,259.9 1148.2,261.8 M1152.9,252.4 Q1147.1,251.6 1143.9,250.6 M1156.1,247.1 Q1152.7,243.5 1150.1,242.6 M1152.7,243.5 L1153.6,240.7 M1161.5,245.8 Q1163.0,240.3 1165.2,237.6 M1163.7,246.5 Q1166.4,242.1 1168.5,240.3 M1166.4,242.1 L1169.3,241.5" fill="none" stroke="#9fcdeb" stroke-width="1.35" stroke-linecap="round"/>
<path d="M1167.3,250.3 L1170.7,248.9 M1166.8,257.1 L1170.0,259.0 M1165.8,258.4 L1168.4,261.0 M1158.5,260.5 L1157.6,264.0 M1157.9,260.3 L1156.6,263.8 M1154.0,257.1 L1150.8,259.0 M1152.9,252.4 L1149.3,252.0 M1156.1,247.1 L1153.9,244.1 M1161.5,245.8 L1162.1,242.1 M1163.7,246.5 L1165.4,243.2" fill="none" stroke="#9fcdeb" stroke-width="2.6" stroke-linecap="round"/>
<path d="M1169.7,253.2 L1169.5,256.5 L1167.7,259.3 L1165.0,261.1 L1162.1,262.8 L1158.8,262.0 L1155.8,261.2 L1153.1,259.3 L1152.0,256.3 L1151.1,253.2 L1152.1,250.2 L1153.2,247.1 L1155.6,244.9 L1158.8,244.0 L1162.1,243.7 L1165.0,245.3 L1167.7,247.1 L1169.2,250.0Z" fill="#9fcdeb" stroke="#93c4e5" stroke-width="0.8" stroke-linejoin="round"/>
<ellipse cx="1161.3" cy="253.7" rx="5.4" ry="4.5" transform="rotate(-20 1161.3 253.7)" fill="#84b0cb"/>
<path d="M1131.5,276.0 Q1128.8,280.4 1128.6,283.4 M1128.8,280.4 L1129.5,283.3 M1128.8,271.5 Q1124.1,272.4 1121.8,272.8 M1130.1,265.8 Q1124.7,262.1 1121.3,260.2 M1135.2,262.7 Q1134.4,256.6 1134.0,253.2 M1140.8,264.2 Q1144.8,259.5 1147.5,257.1 M1144.8,259.5 L1144.0,256.6 M1142.7,266.4 Q1147.9,262.5 1150.0,259.2 M1147.9,262.5 L1148.3,259.6 M1143.3,272.8 Q1148.6,274.9 1151.3,276.6 M1140.4,276.4 Q1143.7,280.2 1146.4,281.3 M1135.8,277.7 Q1134.9,282.7 1133.1,285.1" fill="none" stroke="#9fcdeb" stroke-width="1.35" stroke-linecap="round"/>
<path d="M1131.5,276.0 L1129.2,278.9 M1128.8,271.5 L1125.2,272.2 M1130.1,265.8 L1127.1,263.6 M1135.2,262.7 L1134.7,259.1 M1140.8,264.2 L1143.0,261.3 M1142.7,266.4 L1145.8,264.5 M1143.3,272.8 L1146.7,274.0 M1140.4,276.4 L1142.4,279.5 M1135.8,277.7 L1135.6,281.4" fill="none" stroke="#9fcdeb" stroke-width="2.6" stroke-linecap="round"/>
<path d="M1145.7,270.2 L1145.3,273.5 L1143.2,276.1 L1140.8,278.1 L1137.9,279.7 L1134.6,279.0 L1131.4,278.5 L1129.4,275.9 L1127.3,273.4 L1126.7,270.2 L1127.1,266.9 L1128.8,264.0 L1131.5,262.1 L1134.6,261.3 L1137.8,261.4 L1140.9,262.1 L1143.3,264.2 L1144.6,267.2Z" fill="#9fcdeb" stroke="#93c4e5" stroke-width="0.8" stroke-linejoin="round"/>
<ellipse cx="1137.1" cy="270.7" rx="5.4" ry="4.5" transform="rotate(-20 1137.1 270.7)" fill="#84b0cb"/>
<path d="M1181.0,262.2 Q1176.8,259.3 1175.0,257.3 M1185.4,259.0 Q1183.6,253.3 1182.1,250.3 M1191.0,259.8 Q1193.6,254.1 1194.0,250.4 M1194.5,264.2 Q1199.7,262.2 1202.2,260.1 M1199.7,262.2 L1200.9,259.5 M1194.8,266.9 Q1201.4,267.7 1205.2,268.4 M1193.3,270.8 Q1198.7,274.0 1202.5,274.6 M1198.7,274.0 L1201.6,273.2 M1188.0,273.8 Q1189.2,279.3 1191.2,281.9 M1189.2,279.3 L1191.7,280.9 M1184.8,273.4 Q1183.7,278.7 1184.6,281.9 M1182.3,271.9 Q1178.2,275.6 1175.1,276.7 M1179.8,267.3 Q1174.7,267.7 1171.9,267.1" fill="none" stroke="#9fcdeb" stroke-width="1.35" stroke-linecap="round"/>
<path d="M1181.0,262.2 L1177.9,260.3 M1185.4,259.0 L1184.5,255.5 M1191.0,259.8 L1192.8,256.6 M1194.5,264.2 L1198.1,263.2 M1194.8,266.9 L1198.5,267.2 M1193.3,270.8 L1196.3,273.0 M1188.0,273.8 L1188.4,277.4 M1184.8,273.4 L1183.6,276.9 M1182.3,271.9 L1179.9,274.7 M1179.8,267.3 L1176.2,267.8" fill="none" stroke="#9fcdeb" stroke-width="2.6" stroke-linecap="round"/>
<path d="M1197.0,266.3 L1195.6,269.3 L1194.6,272.4 L1191.8,274.1 L1189.0,275.8 L1185.7,275.3 L1182.5,274.7 L1180.4,272.1 L1178.2,269.6 L1178.0,266.3 L1178.5,263.1 L1180.1,260.3 L1182.8,258.5 L1185.8,257.5 L1188.9,257.4 L1192.1,258.0 L1194.6,260.2 L1195.7,263.2Z" fill="#9fcdeb" stroke="#93c4e5" stroke-width="0.8" stroke-linejoin="round"/>
<ellipse cx="1188.2" cy="266.8" rx="5.4" ry="4.5" transform="rotate(-20 1188.2 266.8)" fill="#84b0cb"/>
<path d="M1224.1,271.7 Q1228.7,272.5 1231.0,272.8 M1222.7,274.7 Q1228.3,277.9 1232.3,278.3 M1220.2,276.9 Q1222.9,283.0 1223.6,287.0 M1214.5,277.4 Q1213.2,282.2 1213.0,284.8 M1209.9,273.5 Q1205.5,276.3 1203.6,278.6 M1209.3,271.4 Q1203.6,271.8 1200.5,270.8 M1203.6,271.8 L1201.4,269.8 M1210.3,266.2 Q1205.9,264.3 1203.1,264.7 M1205.9,264.3 L1205.6,261.4 M1213.2,263.6 Q1209.8,258.2 1207.2,255.6 M1216.9,262.7 Q1217.4,257.0 1218.1,254.0 M1221.2,264.1 Q1225.6,259.4 1229.4,257.8 M1225.6,259.4 L1224.8,256.6 M1223.7,267.5 Q1229.8,265.4 1233.5,264.8" fill="none" stroke="#9fcdeb" stroke-width="1.35" stroke-linecap="round"/>
<path d="M1224.1,271.7 L1227.7,272.4 M1222.7,274.7 L1225.7,276.9 M1220.2,276.9 L1221.9,280.1 M1214.5,277.4 L1213.4,280.9 M1209.9,273.5 L1206.6,275.1 M1209.3,271.4 L1205.6,272.0 M1210.3,266.2 L1207.2,264.3 M1213.2,263.6 L1211.5,260.3 M1216.9,262.7 L1217.1,259.0 M1221.2,264.1 L1223.3,261.2 M1223.7,267.5 L1227.1,266.2" fill="none" stroke="#9fcdeb" stroke-width="2.6" stroke-linecap="round"/>
<path d="M1226.3,270.2 L1225.1,273.3 L1223.9,276.2 L1221.3,278.2 L1218.3,279.5 L1215.1,279.0 L1211.9,278.5 L1209.9,275.9 L1208.2,273.3 L1207.1,270.2 L1207.6,266.9 L1209.6,264.3 L1212.1,262.2 L1215.1,261.3 L1218.3,261.2 L1221.4,262.0 L1223.6,264.4 L1225.1,267.1Z" fill="#9fcdeb" stroke="#93c4e5" stroke-width="0.8" stroke-linejoin="round"/>
<ellipse cx="1217.6" cy="270.7" rx="5.4" ry="4.5" transform="rotate(-20 1217.6 270.7)" fill="#84b0cb"/>
<path d="M1260.2,261.9 Q1265.2,258.1 1268.0,255.7 M1261.0,263.3 Q1266.9,260.8 1270.2,259.3 M1261.4,268.0 Q1267.0,268.6 1270.2,267.9 M1256.3,273.5 Q1257.9,279.3 1258.5,282.6 M1253.6,273.8 Q1252.9,280.0 1252.0,283.5 M1248.1,270.8 Q1244.7,274.3 1243.9,277.0 M1246.7,267.5 Q1240.5,268.8 1237.0,270.1 M1246.8,264.6 Q1241.7,263.7 1238.9,263.9 M1241.7,263.7 L1239.3,265.6 M1250.1,259.9 Q1248.0,255.1 1248.3,251.9 M1256.3,259.1 Q1257.9,253.1 1258.1,249.6 M1257.9,253.1 L1260.6,252.1" fill="none" stroke="#9fcdeb" stroke-width="1.35" stroke-linecap="round"/>
<path d="M1260.2,261.9 L1263.1,259.7 M1261.0,263.3 L1264.4,261.9 M1261.4,268.0 L1265.0,268.8 M1256.3,273.5 L1257.4,277.0 M1253.6,273.8 L1253.3,277.5 M1248.1,270.8 L1245.2,273.1 M1246.7,267.5 L1243.0,268.1 M1246.8,264.6 L1243.2,263.8 M1250.1,259.9 L1248.2,256.8 M1256.3,259.1 L1257.4,255.6" fill="none" stroke="#9fcdeb" stroke-width="2.6" stroke-linecap="round"/>
<path d="M1263.0,266.3 L1262.9,269.5 L1260.9,272.0 L1258.6,274.0 L1255.7,275.3 L1252.6,275.1 L1249.7,274.0 L1246.8,272.4 L1245.6,269.4 L1244.4,266.3 L1245.8,263.3 L1247.1,260.4 L1249.3,258.1 L1252.5,257.2 L1255.7,257.1 L1258.6,258.5 L1261.4,260.2 L1262.7,263.2Z" fill="#9fcdeb" stroke="#93c4e5" stroke-width="0.8" stroke-linejoin="round"/>
<ellipse cx="1255.0" cy="266.8" rx="5.4" ry="4.5" transform="rotate(-20 1255.0 266.8)" fill="#84b0cb"/>
<path d="M1160.1,292.2 Q1159.5,297.5 1159.6,300.5 M1156.0,290.3 Q1152.0,294.8 1149.9,297.4 M1154.1,287.3 Q1149.6,288.8 1147.3,289.2 M1154.0,282.1 Q1148.8,280.7 1145.8,280.8 M1156.3,278.9 Q1153.0,274.1 1152.1,270.9 M1163.3,277.5 Q1165.3,273.1 1167.5,271.3 M1166.7,279.7 Q1171.1,276.8 1174.1,276.6 M1168.4,283.0 Q1174.5,282.4 1178.1,283.6 M1167.0,289.3 Q1171.2,293.5 1172.3,297.0 M1164.6,291.4 Q1167.8,296.2 1170.7,298.1" fill="none" stroke="#9fcdeb" stroke-width="1.35" stroke-linecap="round"/>
<path d="M1160.1,292.2 L1159.6,295.8 M1156.0,290.3 L1153.6,293.0 M1154.1,287.3 L1150.6,288.6 M1154.0,282.1 L1150.6,280.8 M1156.3,278.9 L1154.0,276.1 M1163.3,277.5 L1164.4,274.0 M1166.7,279.7 L1169.5,277.3 M1168.4,283.0 L1172.0,282.2 M1167.0,289.3 L1169.9,291.6 M1164.6,291.4 L1166.2,294.7" fill="none" stroke="#9fcdeb" stroke-width="2.6" stroke-linecap="round"/>
<path d="M1170.6,284.7 L1169.8,287.9 L1168.3,290.7 L1165.8,292.8 L1162.7,294.0 L1159.6,293.5 L1156.6,292.5 L1153.8,290.9 L1152.6,287.8 L1151.4,284.7 L1152.0,281.4 L1154.1,278.8 L1156.5,276.8 L1159.5,275.8 L1162.7,275.7 L1165.7,276.7 L1168.3,278.7 L1170.1,281.4Z" fill="#9fcdeb" stroke="#93c4e5" stroke-width="0.8" stroke-linejoin="round"/>
<ellipse cx="1162.0" cy="285.2" rx="5.4" ry="4.5" transform="rotate(-20 1162.0 285.2)" fill="#84b0cb"/>
<path d="M1187.6,295.2 Q1184.0,300.5 1180.7,302.7 M1184.9,292.8 Q1179.4,296.2 1175.9,297.7 M1179.4,296.2 L1179.1,299.1 M1183.7,288.9 Q1178.6,289.4 1176.0,290.3 M1185.8,283.4 Q1181.0,279.8 1177.3,279.1 M1181.0,279.8 L1178.1,280.2 M1186.8,282.5 Q1183.6,277.0 1183.0,273.1 M1183.6,277.0 L1184.5,274.1 M1194.1,281.7 Q1197.2,275.7 1200.0,272.7 M1197.2,275.7 L1195.8,273.1 M1197.0,283.8 Q1201.9,279.8 1204.8,277.8 M1198.6,287.5 Q1204.1,286.5 1207.0,285.3 M1204.1,286.5 L1206.3,288.5 M1197.0,293.4 Q1201.3,297.4 1203.1,300.2 M1201.3,297.4 L1201.3,300.3 M1193.8,295.7 Q1196.1,300.5 1198.2,302.6" fill="none" stroke="#9fcdeb" stroke-width="1.35" stroke-linecap="round"/>
<path d="M1187.6,295.2 L1185.8,298.4 M1184.9,292.8 L1181.9,294.8 M1183.7,288.9 L1180.0,289.1 M1185.8,283.4 L1183.2,280.8 M1186.8,282.5 L1184.7,279.5 M1194.1,281.7 L1195.6,278.3 M1197.0,283.8 L1199.8,281.4 M1198.6,287.5 L1202.3,287.0 M1197.0,293.4 L1199.9,295.7 M1193.8,295.7 L1195.1,299.1" fill="none" stroke="#9fcdeb" stroke-width="2.6" stroke-linecap="round"/>
<path d="M1200.4,288.6 L1199.7,291.7 L1198.2,294.4 L1196.0,297.0 L1192.8,297.8 L1189.6,297.8 L1186.5,296.7 L1183.8,294.8 L1182.3,291.8 L1182.2,288.6 L1182.5,285.4 L1184.0,282.5 L1186.6,280.6 L1189.7,279.9 L1192.8,279.5 L1196.0,280.2 L1198.1,282.8 L1199.9,285.4Z" fill="#9fcdeb" stroke="#93c4e5" stroke-width="0.8" stroke-linejoin="round"/>
<ellipse cx="1192.1" cy="289.1" rx="5.4" ry="4.5" transform="rotate(-20 1192.1 289.1)" fill="#84b0cb"/>
<path d="M1227.0,288.0 Q1223.0,283.8 1220.2,282.1 M1229.8,286.6 Q1228.4,281.9 1227.6,279.6 M1237.1,288.4 Q1241.4,284.9 1244.5,284.1 M1241.4,284.9 L1244.3,285.3 M1238.7,290.8 Q1243.7,289.2 1246.6,289.2 M1239.2,295.0 Q1244.9,296.3 1248.0,297.5 M1244.9,296.3 L1247.1,294.3 M1236.8,299.4 Q1240.8,303.1 1243.8,304.0 M1240.8,303.1 L1240.3,306.0 M1230.7,301.2 Q1229.8,308.0 1229.6,311.9 M1225.0,297.0 Q1219.8,300.3 1217.5,303.2 M1224.3,293.0 Q1219.2,293.1 1216.6,294.3" fill="none" stroke="#9fcdeb" stroke-width="1.35" stroke-linecap="round"/>
<path d="M1227.0,288.0 L1224.7,285.2 M1229.8,286.6 L1228.8,283.0 M1237.1,288.4 L1239.6,285.8 M1238.7,290.8 L1242.1,289.4 M1239.2,295.0 L1242.8,295.7 M1236.8,299.4 L1239.2,302.2 M1230.7,301.2 L1230.2,304.9 M1225.0,297.0 L1221.7,298.6 M1224.3,293.0 L1220.7,292.6" fill="none" stroke="#9fcdeb" stroke-width="2.6" stroke-linecap="round"/>
<path d="M1241.1,293.8 L1240.3,296.9 L1238.9,299.8 L1236.3,301.6 L1233.5,303.2 L1230.2,303.0 L1227.3,301.5 L1224.4,300.0 L1223.4,296.9 L1222.7,293.8 L1223.5,290.8 L1224.5,287.7 L1227.3,286.1 L1230.2,284.6 L1233.3,285.0 L1236.4,285.8 L1239.1,287.7 L1240.6,290.6Z" fill="#9fcdeb" stroke="#93c4e5" stroke-width="0.8" stroke-linejoin="round"/>
<ellipse cx="1232.7" cy="294.3" rx="5.4" ry="4.5" transform="rotate(-20 1232.7 294.3)" fill="#84b0cb"/>
<path d="M1135.6,315.7 Q1140.4,317.5 1142.3,319.8 M1140.4,317.5 L1142.7,315.6 M1132.5,320.4 Q1136.6,325.8 1139.8,328.4 M1128.1,321.6 Q1128.4,326.9 1129.2,329.6 M1128.4,326.9 L1130.6,328.8 M1122.8,319.2 Q1118.5,323.9 1116.7,327.2 M1121.1,316.1 Q1116.1,317.5 1113.5,318.4 M1120.9,312.8 Q1115.1,312.1 1111.8,312.1 M1126.9,306.7 Q1125.6,300.8 1124.5,297.6 M1132.2,307.7 Q1135.8,303.2 1138.9,301.6 M1135.8,303.2 L1134.7,300.4 M1134.5,309.8 Q1139.7,306.8 1143.0,306.0" fill="none" stroke="#9fcdeb" stroke-width="1.35" stroke-linecap="round"/>
<path d="M1135.6,315.7 L1139.2,316.5 M1132.5,320.4 L1134.5,323.4 M1128.1,321.6 L1128.0,325.3 M1122.8,319.2 L1120.1,321.7 M1121.1,316.1 L1117.5,317.1 M1120.9,312.8 L1117.3,312.2 M1126.9,306.7 L1126.2,303.1 M1132.2,307.7 L1134.1,304.5 M1134.5,309.8 L1137.5,307.7" fill="none" stroke="#9fcdeb" stroke-width="2.6" stroke-linecap="round"/>
<path d="M1137.2,314.1 L1137.1,317.3 L1135.2,319.9 L1133.1,322.4 L1130.0,323.6 L1126.7,323.2 L1123.8,321.8 L1121.0,320.2 L1119.2,317.4 L1119.2,314.1 L1119.2,310.8 L1121.4,308.3 L1123.6,306.0 L1126.7,304.9 L1129.8,305.3 L1132.9,306.2 L1135.2,308.3 L1137.2,310.9Z" fill="#9fcdeb" stroke="#93c4e5" stroke-width="0.8" stroke-linejoin="round"/>
<ellipse cx="1129.2" cy="314.6" rx="5.4" ry="4.5" transform="rotate(-20 1129.2 314.6)" fill="#84b0cb"/>
<path d="M1197.2,320.5 Q1192.5,322.8 1190.8,325.4 M1197.9,314.1 Q1193.3,311.7 1190.5,311.2 M1193.3,311.7 L1193.0,308.8 M1201.3,311.2 Q1198.8,305.0 1197.7,301.2 M1198.8,305.0 L1195.9,304.2 M1207.2,311.2 Q1209.7,306.6 1212.1,304.8 M1209.9,313.1 Q1213.5,309.9 1215.1,308.3 M1211.4,315.8 Q1216.3,313.9 1218.5,312.4 M1216.3,313.9 L1217.3,311.1 M1211.4,320.6 Q1216.6,322.7 1219.2,324.3 M1208.7,324.2 Q1211.0,328.4 1210.9,331.2 M1202.1,325.3 Q1200.9,331.0 1201.0,334.3 M1200.9,331.0 L1198.1,332.0 M1199.8,324.1 Q1196.9,329.0 1196.2,332.2" fill="none" stroke="#9fcdeb" stroke-width="1.35" stroke-linecap="round"/>
<path d="M1197.2,320.5 L1193.7,321.7 M1197.9,314.1 L1194.8,312.2 M1201.3,311.2 L1199.8,307.8 M1207.2,311.2 L1208.6,307.8 M1209.9,313.1 L1212.7,310.7 M1211.4,315.8 L1214.9,314.6 M1211.4,320.6 L1214.9,321.9 M1208.7,324.2 L1210.9,327.1 M1202.1,325.3 L1201.1,328.8 M1199.8,324.1 L1197.6,327.1" fill="none" stroke="#9fcdeb" stroke-width="2.6" stroke-linecap="round"/>
<path d="M1213.9,318.1 L1213.0,321.3 L1211.7,324.3 L1208.7,325.8 L1206.0,327.6 L1202.7,327.4 L1199.8,325.9 L1196.9,324.3 L1195.9,321.1 L1194.8,318.1 L1195.1,314.8 L1197.0,312.0 L1199.4,309.7 L1202.6,308.6 L1205.8,309.4 L1208.7,310.4 L1211.5,312.0 L1213.1,314.9Z" fill="#9fcdeb" stroke="#93c4e5" stroke-width="0.8" stroke-linejoin="round"/>
<ellipse cx="1205.2" cy="318.6" rx="5.4" ry="4.5" transform="rotate(-20 1205.2 318.6)" fill="#84b0cb"/>
<path d="M1262.6,310.9 Q1258.6,314.6 1257.1,317.4 M1261.0,305.9 Q1255.8,305.0 1253.2,303.2 M1255.8,305.0 L1254.1,302.5 M1261.7,303.0 Q1256.5,300.8 1253.3,300.1 M1267.5,298.8 Q1267.6,293.3 1269.2,290.3 M1267.6,293.3 L1265.0,291.8 M1268.2,298.8 Q1268.1,292.6 1268.2,289.1 M1272.6,300.0 Q1276.2,295.4 1279.2,293.7 M1275.5,303.6 Q1280.3,302.4 1283.0,303.1 M1274.6,310.6 Q1278.4,313.9 1279.8,316.3 M1271.6,313.1 Q1273.8,317.3 1275.2,319.2 M1273.8,317.3 L1272.4,320.0 M1271.3,313.3 Q1273.3,318.6 1274.2,321.6 M1273.3,318.6 L1271.8,321.2 M1266.3,313.5 Q1263.8,318.8 1261.1,321.2" fill="none" stroke="#9fcdeb" stroke-width="1.35" stroke-linecap="round"/>
<path d="M1262.6,310.9 L1259.6,313.2 M1261.0,305.9 L1257.3,305.7 M1261.7,303.0 L1258.4,301.4 M1267.5,298.8 L1267.0,295.2 M1268.2,298.8 L1268.1,295.1 M1272.6,300.0 L1274.5,296.9 M1275.5,303.6 L1278.9,302.3 M1274.6,310.6 L1277.7,312.8 M1271.6,313.1 L1273.2,316.5 M1271.3,313.3 L1272.7,316.7 M1266.3,313.5 L1265.2,317.0" fill="none" stroke="#9fcdeb" stroke-width="2.6" stroke-linecap="round"/>
<path d="M1277.7,306.3 L1277.0,309.4 L1275.8,312.5 L1273.0,314.1 L1270.1,315.6 L1266.9,315.5 L1263.8,314.4 L1261.6,312.1 L1259.6,309.5 L1258.8,306.3 L1259.9,303.2 L1261.5,300.4 L1263.7,297.9 L1266.9,297.1 L1270.1,297.3 L1272.9,298.6 L1275.8,300.2 L1277.1,303.2Z" fill="#9fcdeb" stroke="#93c4e5" stroke-width="0.8" stroke-linejoin="round"/>
<ellipse cx="1269.4" cy="306.8" rx="5.4" ry="4.5" transform="rotate(-20 1269.4 306.8)" fill="#84b0cb"/>
<path d="M1308.6,325.8 Q1311.9,329.8 1312.6,332.8 M1305.2,327.9 Q1306.1,333.1 1305.4,336.1 M1306.1,333.1 L1308.9,334.2 M1299.5,327.3 Q1296.2,332.5 1293.5,334.9 M1295.5,320.8 Q1290.3,321.2 1287.7,322.3 M1296.3,317.3 Q1291.8,314.8 1289.8,313.0 M1301.1,313.4 Q1299.6,308.5 1298.2,306.1 M1299.6,308.5 L1301.4,306.1 M1303.6,313.2 Q1304.2,307.0 1304.6,303.5 M1309.2,316.4 Q1314.5,312.9 1317.8,311.1 M1310.4,319.5 Q1316.1,319.3 1319.3,320.5 M1316.1,319.3 L1317.6,316.7" fill="none" stroke="#9fcdeb" stroke-width="1.35" stroke-linecap="round"/>
<path d="M1308.6,325.8 L1311.3,328.3 M1305.2,327.9 L1306.2,331.4 M1299.5,327.3 L1297.7,330.6 M1295.5,320.8 L1291.8,320.8 M1296.3,317.3 L1293.0,315.7 M1301.1,313.4 L1300.2,309.8 M1303.6,313.2 L1303.9,309.5 M1309.2,316.4 L1312.2,314.3 M1310.4,319.5 L1314.1,318.9" fill="none" stroke="#9fcdeb" stroke-width="2.6" stroke-linecap="round"/>
<path d="M1312.0,320.7 L1311.9,323.9 L1310.3,326.9 L1307.5,328.5 L1304.6,329.9 L1301.4,329.9 L1298.2,329.1 L1296.1,326.5 L1294.5,323.8 L1293.4,320.7 L1294.0,317.4 L1295.6,314.5 L1298.3,312.5 L1301.4,311.6 L1304.6,311.5 L1307.6,312.7 L1310.1,314.7 L1311.5,317.6Z" fill="#9fcdeb" stroke="#93c4e5" stroke-width="0.8" stroke-linejoin="round"/>
<ellipse cx="1303.9" cy="321.2" rx="5.4" ry="4.5" transform="rotate(-20 1303.9 321.2)" fill="#84b0cb"/>
<path d="M1427.7,93.5 Q1430.9,89.1 1433.2,86.9 M1430.1,96.4 Q1434.4,94.2 1436.5,92.4 M1429.4,102.3 Q1433.4,104.4 1436.0,104.6 M1428.6,103.2 Q1431.0,106.4 1431.5,108.5 M1422.6,104.7 Q1421.9,109.3 1422.6,111.9 M1421.9,104.4 Q1420.2,109.1 1419.6,111.8 M1418.1,99.2 Q1414.2,99.7 1412.4,100.4 M1418.4,96.8 Q1412.9,95.5 1409.5,95.7 M1422.2,92.8 Q1420.0,88.4 1417.9,86.4 M1424.6,92.5 Q1425.1,88.4 1425.8,86.4" fill="none" stroke="#b1caeb" stroke-width="1.3" stroke-linecap="round"/>
<path d="M1427.7,93.5 L1429.6,90.7 M1430.1,96.4 L1433.2,95.1 M1429.4,102.3 L1432.2,104.2 M1428.6,103.2 L1430.9,105.6 M1422.6,104.7 L1421.7,108.0 M1421.9,104.4 L1420.6,107.5 M1418.1,99.2 L1414.7,99.5 M1418.4,96.8 L1415.2,95.8 M1422.2,92.8 L1421.0,89.7 M1424.6,92.5 L1424.8,89.1" fill="none" stroke="#b1caeb" stroke-width="2.5" stroke-linecap="round"/>
<path d="M1432.4,98.7 L1431.3,101.2 L1430.5,103.9 L1428.3,105.6 L1425.6,106.3 L1423.0,106.2 L1420.4,105.4 L1418.4,103.7 L1416.9,101.4 L1416.6,98.7 L1416.8,96.0 L1418.5,93.8 L1420.3,91.8 L1422.9,90.9 L1425.6,91.4 L1428.1,92.1 L1430.5,93.5 L1431.7,96.0Z" fill="#b1caeb" stroke="#a6c2e8" stroke-width="0.8" stroke-linejoin="round"/>
<ellipse cx="1425.1" cy="99.1" rx="4.4" ry="3.7" transform="rotate(-20 1425.1 99.1)" fill="#95b4e0"/>
<path d="M1455.1,86.8 Q1458.0,83.6 1460.5,82.7 M1457.3,89.2 Q1462.1,86.8 1465.0,85.6 M1457.2,95.0 Q1461.5,97.1 1464.0,97.8 M1455.0,97.3 Q1457.1,101.1 1457.8,103.3 M1457.1,101.1 L1459.6,101.4 M1452.2,98.2 Q1452.6,102.5 1452.8,104.8 M1447.6,96.7 Q1444.6,100.6 1443.1,103.0 M1445.7,90.2 Q1440.6,89.2 1437.5,89.4 M1446.9,88.0 Q1442.8,84.7 1440.3,82.8 M1452.6,85.8 Q1453.8,80.7 1455.5,77.9" fill="none" stroke="#b1caeb" stroke-width="1.3" stroke-linecap="round"/>
<path d="M1455.1,86.8 L1457.0,84.0 M1457.3,89.2 L1460.3,87.7 M1457.2,95.0 L1460.1,96.6 M1455.0,97.3 L1456.8,100.1 M1452.2,98.2 L1452.5,101.6 M1447.6,96.7 L1445.4,99.3 M1445.7,90.2 L1442.5,89.3 M1446.9,88.0 L1444.3,85.9 M1452.6,85.8 L1453.1,82.5" fill="none" stroke="#b1caeb" stroke-width="2.5" stroke-linecap="round"/>
<path d="M1459.5,92.0 L1458.7,94.6 L1457.9,97.2 L1455.5,98.7 L1453.0,99.2 L1450.4,99.6 L1447.9,98.6 L1446.0,96.8 L1444.1,94.8 L1444.3,92.0 L1444.1,89.3 L1445.8,87.0 L1448.0,85.5 L1450.4,84.5 L1453.0,84.4 L1455.4,85.6 L1457.8,86.9 L1459.1,89.3Z" fill="#b1caeb" stroke="#a6c2e8" stroke-width="0.8" stroke-linejoin="round"/>
<ellipse cx="1452.5" cy="92.4" rx="4.4" ry="3.7" transform="rotate(-20 1452.5 92.4)" fill="#95b4e0"/>
<path d="M1449.5,123.3 Q1453.4,125.9 1454.9,128.4 M1446.1,126.3 Q1447.0,130.4 1446.2,132.7 M1445.0,126.6 Q1445.6,131.0 1445.5,133.4 M1445.6,131.0 L1443.9,132.8 M1440.4,125.5 Q1438.2,129.2 1437.9,131.6 M1437.9,121.7 Q1433.3,122.7 1430.8,123.2 M1433.3,122.7 L1432.2,124.9 M1438.8,117.0 Q1434.6,113.5 1433.0,110.4 M1441.0,114.9 Q1438.5,110.1 1437.1,107.3 M1438.5,110.1 L1436.1,109.7 M1443.4,114.2 Q1443.3,109.8 1444.0,107.4 M1448.0,115.6 Q1451.4,111.8 1453.5,109.8 M1451.4,111.8 L1450.9,109.4 M1450.1,119.2 Q1454.8,118.2 1457.4,117.6 M1454.8,118.2 L1455.9,116.1" fill="none" stroke="#b1caeb" stroke-width="1.3" stroke-linecap="round"/>
<path d="M1449.5,123.3 L1452.5,124.8 M1446.1,126.3 L1447.3,129.4 M1445.0,126.6 L1445.5,129.9 M1440.4,125.5 L1438.4,128.2 M1437.9,121.7 L1434.6,122.4 M1438.8,117.0 L1436.0,115.1 M1441.0,114.9 L1439.4,112.0 M1443.4,114.2 L1443.0,110.9 M1448.0,115.6 L1450.1,113.0 M1450.1,119.2 L1453.4,118.6" fill="none" stroke="#b1caeb" stroke-width="2.5" stroke-linecap="round"/>
<path d="M1451.9,120.4 L1451.0,122.9 L1450.0,125.4 L1447.8,126.9 L1445.3,127.8 L1442.6,128.1 L1440.3,126.8 L1438.3,125.2 L1436.6,123.1 L1436.5,120.4 L1436.7,117.8 L1437.9,115.3 L1440.2,113.9 L1442.7,112.7 L1445.4,112.7 L1447.7,113.9 L1450.2,115.2 L1451.3,117.8Z" fill="#b1caeb" stroke="#a6c2e8" stroke-width="0.8" stroke-linejoin="round"/>
<ellipse cx="1444.8" cy="120.8" rx="4.4" ry="3.7" transform="rotate(-20 1444.8 120.8)" fill="#95b4e0"/>
<path d="M1443.3,137.4 L1481.5,347.6 L1405.7,347.6 Z" fill="none" stroke="#1a1a1a" stroke-width="1.8" stroke-linejoin="miter"/>
<line x1="1523.2" y1="90" x2="1523.2" y2="334" stroke="#1a1a1a" stroke-width="1.8"/>
<path d="M1519.2,331 L1527.2,331 L1523.2,346.5 Z" fill="#1a1a1a"/>
<line x1="1183.0" y1="209.5" x2="1161.8" y2="235.5" stroke="#111" stroke-width="1.6"/>
<line x1="1067.2" y1="315.7" x2="1101.8" y2="315.7" stroke="#333" stroke-width="1.6"/>
</g>
<g id="textsB">
<text id="b_ccr7a" x="1175.00" y="199.30" font-size="19.6" textLength="51.99" lengthAdjust="spacingAndGlyphs" fill="#1a1a1a">CCR7</text>
<text id="b_ccl19a" x="1000.00" y="323.80" font-size="19.9" textLength="61.70" lengthAdjust="spacingAndGlyphs" fill="#1a1a1a">CCL19</text>
<text id="b_tw" x="1113.86" y="378.40" font-size="18.8" textLength="184.62" lengthAdjust="spacingAndGlyphs" fill="#1a1a1a">Transwell chamber</text>
<text id="b_ccr7b" x="1416.40" y="74.40" font-size="20.2" textLength="51.69" lengthAdjust="spacingAndGlyphs" fill="#1a1a1a">CCR7</text>
<text id="b_ccl19b" x="1412.00" y="341.70" font-size="19.8" textLength="61.70" lengthAdjust="spacingAndGlyphs" fill="#1a1a1a">CCL19</text>
</g>
</svg>
</body></html>
